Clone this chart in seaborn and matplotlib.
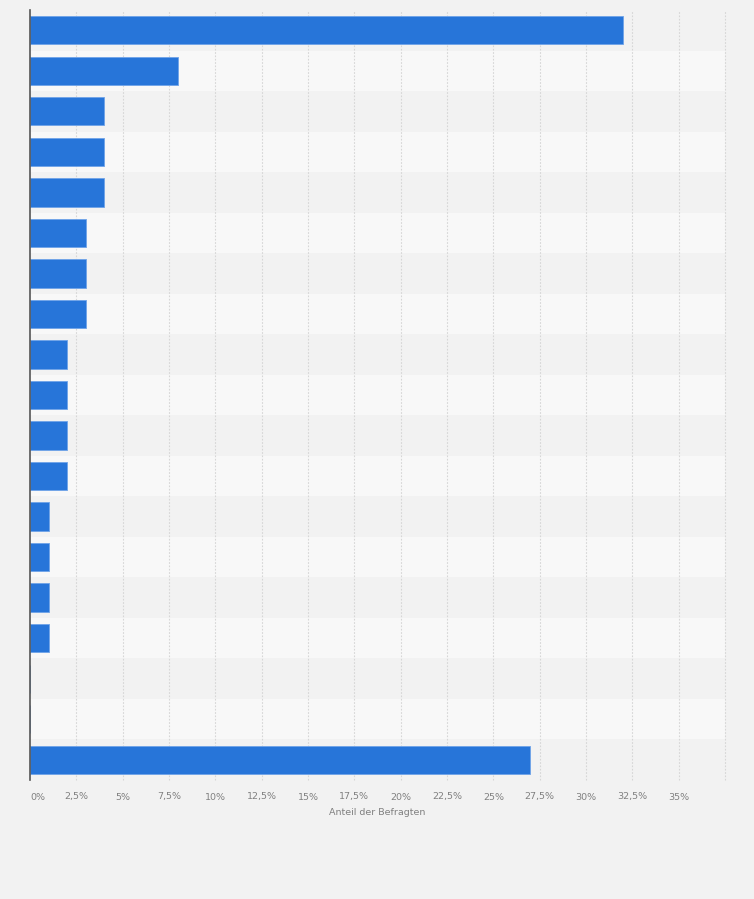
import matplotlib
matplotlib.use("Agg")
import matplotlib.pyplot as plt
import seaborn as sns
import pandas as pd
import numpy as np

# Data (category names are not shown in the picture)
categories = [f"Antwort {i + 1}" for i in range(19)]
values = [32, 8, 4, 4, 4, 3, 3, 3, 2, 2, 2, 2, 1, 1, 1, 1, 0, 0, 27]
tick_values = [0, 2.5, 5, 7.5, 10, 12.5, 15, 17.5, 20, 22.5, 25, 27.5, 30, 32.5, 35]
tick_labels = ["0%", "2,5%", "5%", "7,5%", "10%", "12,5%", "15%", "17,5%",
               "20%", "22,5%", "25%", "27,5%", "30%", "32,5%", "35%"]

df = pd.DataFrame({"Kategorie": categories, "Anteil": values})

sns.set_style("white")
plt.rcParams['font.family'] = ['DejaVu Sans']

bg = "#f2f2f2"
fig = plt.figure(figsize=(7.54, 8.99), dpi=100, facecolor=bg)
ax = fig.add_axes([30 / 754, 1 - 780 / 899, 695 / 754, 770 / 899])
ax.set_facecolor(bg)

# alternating row bands
for i in range(len(categories)):
    if i % 2 == 1:
        ax.axhspan(i - 0.5, i + 0.5, color="#f8f8f8", zorder=0, lw=0)

sns.barplot(data=df, y="Kategorie", x="Anteil", orient="h", color="#2775d9",
            width=0.7, edgecolor="#6fa3e8", linewidth=0.6, saturation=1,
            ax=ax, zorder=3)

ax.set_xlim(0, 37.5)
ax.set_ylim(len(categories) - 0.5, -0.5)

grid_x = tick_values + [37.5]
for gx in grid_x[1:]:
    ax.axvline(gx, color="#d6d6d6", lw=0.8, ls=(0, (1.5, 1.5)), zorder=1,
               clip_on=False)

ax.set_xticks(tick_values)
ax.set_xticklabels(tick_labels, fontsize=6.8, color="#808080")
ax.get_xticklabels()[0].set_horizontalalignment("left")
ax.tick_params(axis="x", length=0, pad=9)
ax.set_yticks([])
ax.set_ylabel("")
ax.set_xlabel("Anteil der Befragten", fontsize=6.8, color="#808080", labelpad=5)

for side in ["top", "right", "bottom"]:
    ax.spines[side].set_visible(False)
ax.spines["left"].set_color("#555555")
ax.spines["left"].set_linewidth(1.2)
ax.spines["left"].set_zorder(5)

fig.savefig("out.png", dpi=100, facecolor=bg)
